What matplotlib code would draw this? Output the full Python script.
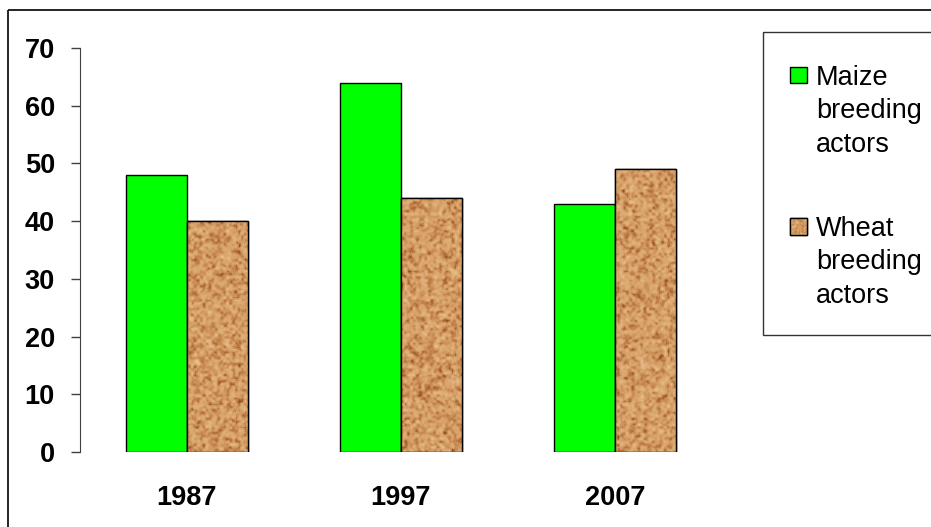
import numpy as np
import matplotlib
matplotlib.use("Agg")
import matplotlib.pyplot as plt
from matplotlib.patches import Rectangle
from matplotlib.colors import LinearSegmentedColormap

# data
years = ["1987", "1997", "2007"]
maize = [48, 64, 43]
wheat = [40, 44, 49]
labels = ["Maize\nbreeding\nactors", "Wheat\nbreeding\nactors"]

plt.rcParams["font.family"] = ["Liberation Sans", "DejaVu Sans"]

W, H = 931, 527
fig = plt.figure(figsize=(W / 100, H / 100), dpi=100)
ax = fig.add_axes([80 / W, 1 - 452 / H, 642 / W, 404 / H])

# cork-like texture for the wheat bars (styling only)
rng = np.random.default_rng(7)
def blur(a, k=1):
    out = np.zeros_like(a)
    n = 0
    for dy in range(-k, k + 1):
        for dx in range(-k, k + 1):
            out += np.roll(np.roll(a, dy, 0), dx, 1)
            n += 1
    return out / n
fine = blur(rng.random((420, 660)), 1)
coarse = blur(np.kron(rng.random((140, 220)), np.ones((3, 3))), 1)
tex = 0.6 * fine + 0.4 * coarse
tex = (tex - tex.min()) / (tex.max() - tex.min())
cork = LinearSegmentedColormap.from_list(
    "cork", ["#8a4418", "#bd7c44", "#d6a068", "#e0b07a", "#eec898"])

x = np.arange(len(years))
bw = 0.287
ax.bar(x - bw / 2, maize, bw, color="#00ff00", edgecolor="black", lw=1, zorder=2)
wb = ax.bar(x + bw / 2, wheat, bw, color="#d2a06a", edgecolor="black", lw=1, zorder=2)
for b in wb:
    im = ax.imshow(tex, cmap=cork, extent=(-0.5, 2.5, 0, 70), aspect="auto",
                   interpolation="bilinear", zorder=2.5, vmin=0.08, vmax=0.92)
    im.set_clip_path(b)
    r = Rectangle(b.get_xy(), b.get_width(), b.get_height(), fill=False,
                  edgecolor="black", lw=1, zorder=3)
    ax.add_patch(r)

ax.set_xlim(-0.5, 2.5)
ax.set_ylim(0, 70)
ax.set_yticks(range(0, 71, 10))
ax.set_xticks(x)
ax.set_xticklabels(years)
for s in ["top", "right", "bottom"]:
    ax.spines[s].set_visible(False)
ax.spines["left"].set_color("#404040")
ax.tick_params(axis="y", length=6.5, width=1, color="#404040", pad=11.5,
               labelsize=19.5)
ax.tick_params(axis="x", length=0, pad=24, labelsize=19.5)
for t in ax.get_xticklabels() + ax.get_yticklabels():
    t.set_fontweight("bold")

# overlay in pixel coordinates: figure frame and legend
ov = fig.add_axes([0, 0, 1, 1], zorder=5)
ov.axis("off")
ov.patch.set_alpha(0)
ov.add_patch(Rectangle((8, 10), 960, 560, fill=False, edgecolor="black", lw=1.2))
ov.add_patch(Rectangle((763, 32), 200, 303, fill=False, edgecolor="#333333", lw=1))

ov.add_patch(Rectangle((790, 67), 17, 16, facecolor="#00ff00", edgecolor="black", lw=1))
hb = Rectangle((790, 218), 17, 17, facecolor="#d2a06a", edgecolor="black", lw=1)
ov.add_patch(hb)
him = ov.imshow(tex[:40, :40], cmap=cork, extent=(790, 807, 235, 218),
                interpolation="bilinear", vmin=0.08, vmax=0.92, zorder=3)
him.set_clip_path(hb)
ov.add_patch(Rectangle((790, 218), 17, 17, fill=False, edgecolor="black", lw=1, zorder=4))
ov.set_xlim(0, W)
ov.set_ylim(H, 0)
ov.set_aspect("auto")

ov.text(816, 65, labels[0], fontsize=19.5, va="top", ha="left", linespacing=1.37)
ov.text(816, 216, labels[1], fontsize=19.5, va="top", ha="left", linespacing=1.37)

fig.savefig("out.png", dpi=100)
